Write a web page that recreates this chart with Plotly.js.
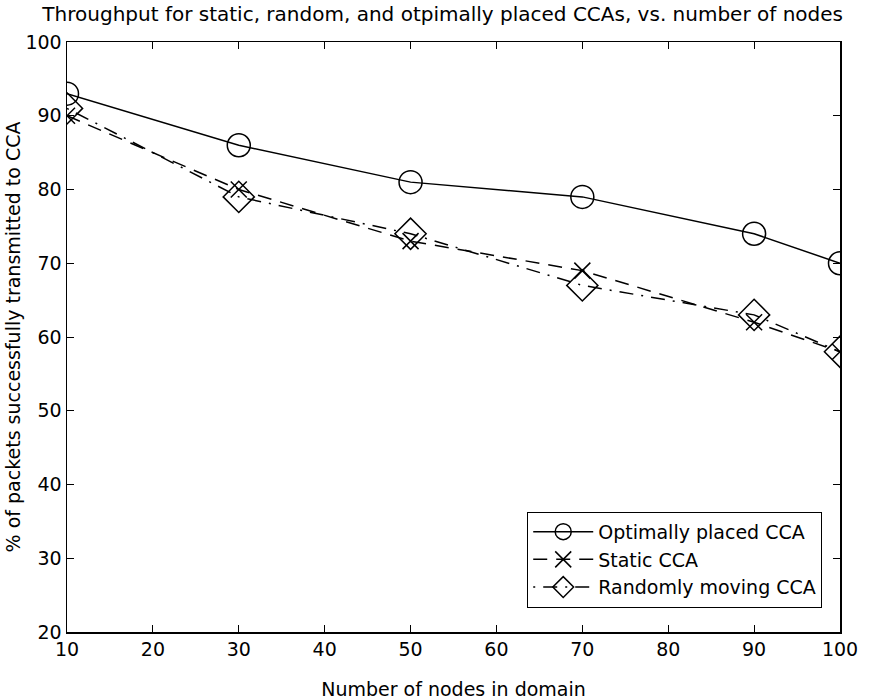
<!DOCTYPE html>
<html>
<head>
<meta charset="utf-8">
<script src="https://cdn.plot.ly/plotly-3.0.1.min.js"></script>
<style>html,body{margin:0;padding:0;background:#fff;}#chart{width:876px;height:700px;}</style>
</head>
<body>
<div id="chart"></div>
<script>
const nodes = [10, 30, 50, 70, 90, 100];
const optimal = [93, 86, 81, 79, 74, 70];
const staticCCA = [90, 80, 73, 69, 62, 58];
const randomCCA = [91, 79, 74, 67, 63, 58];
const seriesNames = ["Optimally placed CCA", "Static CCA", "Randomly moving CCA"];
const xTicks = [10, 20, 30, 40, 50, 60, 70, 80, 90, 100];
const yTicks = [20, 30, 40, 50, 60, 70, 80, 90, 100];

const font = {family: "DejaVu Sans, Arial, sans-serif", size: 19, color: "#000"};

const traces = [
  {x: nodes, y: optimal, name: seriesNames[0], mode: "lines+markers",
   line: {color: "#000", width: 1.5, dash: "solid"},
   marker: {symbol: "circle-open", size: 23, color: "#000", line: {width: 1.5, color: "#000"}}},
  {x: nodes, y: staticCCA, name: seriesNames[1], mode: "lines+markers",
   line: {color: "#000", width: 1.5, dash: "14px,9px"},
   marker: {symbol: "x-thin-open", size: 16, color: "#000", line: {width: 1.5, color: "#000"}}},
  {x: nodes, y: randomCCA, name: seriesNames[2], mode: "lines+markers",
   line: {color: "#000", width: 1.5, dash: "2px,8px,14px,8px"},
   marker: {symbol: "diamond-open", size: 24, color: "#000", line: {width: 1.5, color: "#000"}}}
];

const layout = {
  width: 876, height: 700,
  margin: {l: 67, r: 36, t: 42, b: 68},
  paper_bgcolor: "#fff", plot_bgcolor: "#fff",
  font: font,
  title: {text: "Throughput for static, random, and otpimally placed CCAs, vs. number of nodes",
          font: {family: font.family, size: 20, color: "#000"}, x: 0.486, xref: "paper", y: 0.98, yanchor: "middle"},
  xaxis: {range: [10, 100], tickvals: xTicks, ticktext: xTicks.map(String),
          ticks: "inside", ticklen: 7, tickwidth: 1, tickcolor: "#000",
          showline: true, linecolor: "#000", linewidth: 1.5, mirror: "ticks",
          showgrid: false, zeroline: false, automargin: false,
          title: {text: "Number of nodes in domain", font: font},
          tickfont: font},
  yaxis: {range: [20, 100], tickvals: yTicks, ticktext: yTicks.map(String),
          ticks: "inside", ticklen: 7, tickwidth: 1, tickcolor: "#000",
          showline: true, linecolor: "#000", linewidth: 1.5, mirror: "ticks",
          showgrid: false, zeroline: false, automargin: true,
          title: {text: "% of packets successfully transmitted to CCA", font: font, standoff: 0},
          tickfont: font},
  legend: {x: 0.977, xanchor: "right", y: 0.041, yanchor: "bottom",
           bordercolor: "#000", borderwidth: 1, bgcolor: "#fff",
           font: font, itemwidth: 60, tracegroupgap: 0},
  showlegend: true
};

Plotly.newPlot("chart", traces, layout, {displayModeBar: false, staticPlot: true});
</script>
</body>
</html>
